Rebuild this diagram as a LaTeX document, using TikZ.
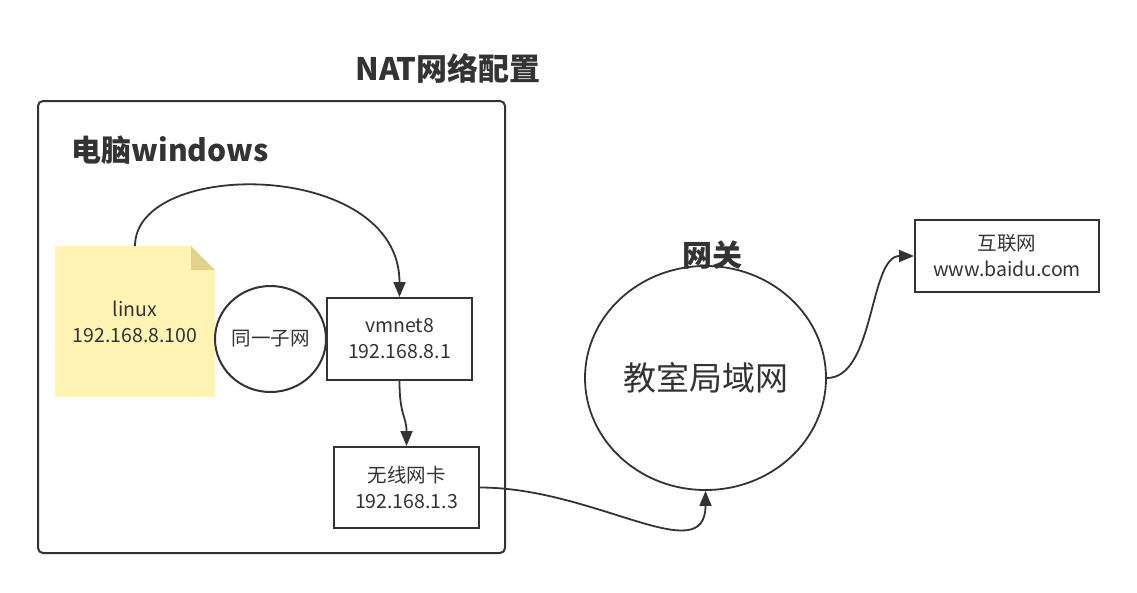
\documentclass[tikz,border=0pt]{standalone}
\usepackage{fontspec}
\setmainfont{Noto Sans CJK SC}
\usetikzlibrary{shapes.geometric,arrows.meta,backgrounds,calc}
\definecolor{ink}{HTML}{333333}
\definecolor{notefill}{HTML}{FFF4B3}
\definecolor{notefold}{HTML}{E3D28A}

\begin{document}
\begin{tikzpicture}[x=1pt,y=-1pt,
    box/.style={draw=ink, line width=2pt, text=ink, align=center, inner sep=0pt,
                font=\fontsize{19.5}{26}\selectfont},
    link/.style={draw=ink, line width=1.8pt, -{Triangle[length=15pt,width=12pt]}}]
			\useasboundingbox (0,0) rectangle (1137,592);
			%Titulos
			\node[text=ink, font=\bfseries\fontsize{31}{34}\selectfont] (title) at (448,68) {NAT网络配置};
			\node[box, rounded corners=5pt, minimum width=467pt, minimum height=452pt] (pc) at (271.5,327) {};
			\node[text=ink, anchor=west, font=\bfseries\fontsize{30}{33}\selectfont] (pclabel) at (68,150) {电脑windows};

			%Dentro do pc
			\node[box, draw=none, minimum width=158pt, minimum height=149pt] (linux) at (135,321.5) {linux\\192.168.8.100};
			\begin{scope}[on background layer]
				\fill[notefill] (linux.north west) -- ($(linux.north east)+(-24,0)$) -- ($(linux.north east)+(0,24)$) -- (linux.south east) -- (linux.south west) -- cycle;
				\fill[notefold] ($(linux.north east)+(-24,0)$) -- ($(linux.north east)+(-24,24)$) -- ($(linux.north east)+(0,24)$) -- cycle;
			\end{scope}
			\node[box, ellipse, line width=2pt, minimum width=111pt, minimum height=106pt] (subnet) at (270.5,339) {同一子网};
			\node[box, minimum width=145pt, minimum height=82pt] (vmnet) at (399.5,339) {vmnet8\\192.168.8.1};
			\node[box, minimum width=145pt, minimum height=81pt] (wifi) at (406.5,487.5) {无线网卡\\192.168.1.3};

			%Fora
			\node[box, ellipse, line width=1.8pt, minimum width=241pt, minimum height=224pt, font=\fontsize{33}{38}\selectfont] (lan) at (705.5,378) {教室局域网};
			\node[text=ink, font=\bfseries\fontsize{30}{33}\selectfont] (gateway) at (712,255) {网关};
			\node[box, minimum width=184pt, minimum height=72pt] (web) at (1007,256) {互联网\\www.baidu.com};

			%Ligacoes
			\draw[link] (linux.north) .. controls +(0,-88) and +(0,-138) .. (vmnet.north);
			\draw[link] (vmnet.south) .. controls +(0,35) and +(0,-30) .. (wifi.north);
			\draw[link] (wifi.east) .. controls +(115,0) and +(0,80) .. (lan.south);
			\draw[link] (lan.east) .. controls +(48,0) and +(-45,0) .. (web.west);
		\end{tikzpicture}
\end{document}
